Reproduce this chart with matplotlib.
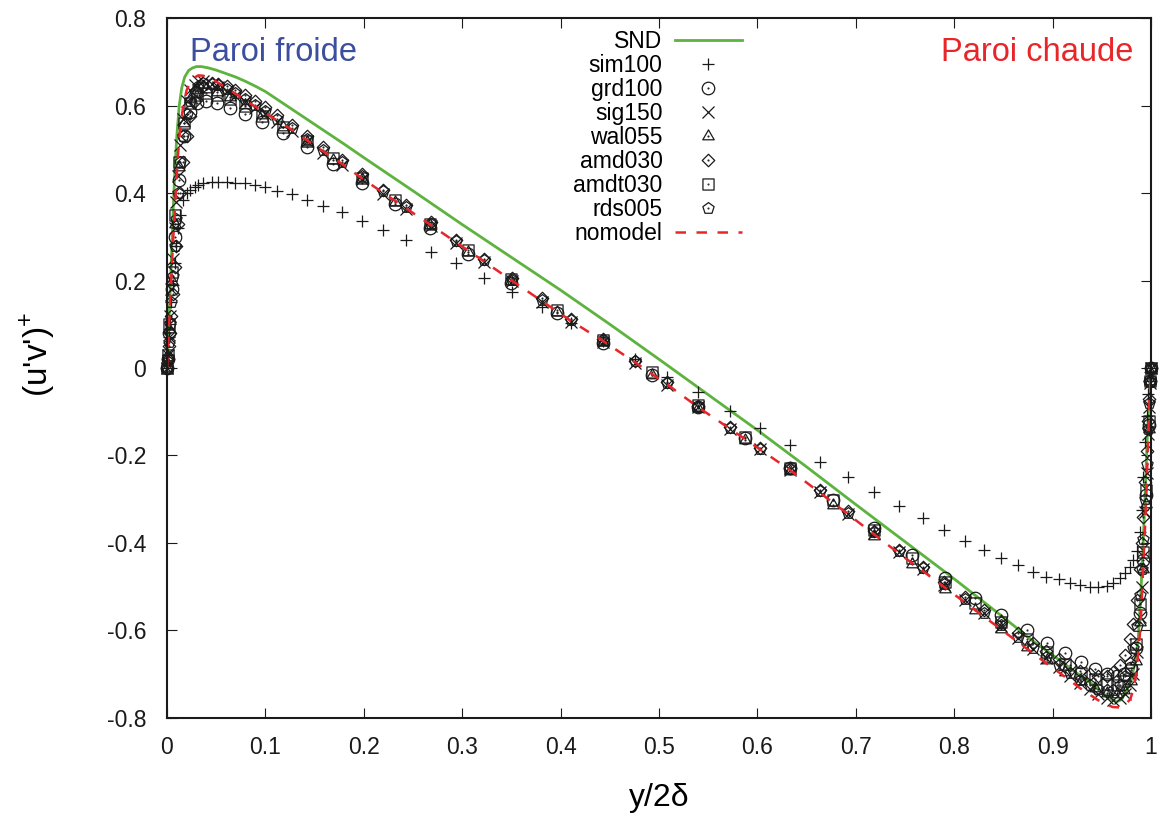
import matplotlib
matplotlib.use('Agg')
import matplotlib.pyplot as plt
from matplotlib.path import Path
from matplotlib.ticker import MultipleLocator, FormatStrFormatter

plt.rcParams['font.family'] = ['Liberation Sans', 'DejaVu Sans']
plt.rcParams['axes.unicode_minus'] = False
plt.rcParams['mathtext.fontset'] = 'custom'
plt.rcParams['mathtext.rm'] = 'Liberation Sans'

# DNS reference profile
x_snd = [0.0, 0.001, 0.002, 0.003, 0.004, 0.005, 0.0065, 0.008, 0.010, 0.0125,
         0.015, 0.018, 0.022, 0.026, 0.030, 0.035, 0.042, 0.05, 0.06, 0.07,
         0.08, 0.09, 0.10, 0.12, 0.14, 0.16, 0.18, 0.20, 0.25, 0.30,
         0.35, 0.40, 0.45, 0.50, 0.55, 0.60, 0.65, 0.70, 0.75, 0.80,
         0.85, 0.88, 0.90, 0.92, 0.94, 0.95, 0.96, 0.965, 0.970, 0.975,
         0.980, 0.984, 0.987, 0.990, 0.992, 0.994, 0.996, 0.998, 1.0]
snd = [0.0, 0.05, 0.10, 0.16, 0.22, 0.28, 0.37, 0.45, 0.53, 0.60,
       0.640, 0.665, 0.680, 0.686, 0.689, 0.689, 0.686, 0.681, 0.673, 0.665,
       0.655, 0.644, 0.632, 0.602, 0.572, 0.542, 0.512, 0.481, 0.405, 0.328,
       0.253, 0.178, 0.100, 0.020, -0.061, -0.142, -0.226, -0.312, -0.397, -0.482,
       -0.570, -0.624, -0.656, -0.690, -0.722, -0.742, -0.758, -0.763, -0.758, -0.738,
       -0.712, -0.670, -0.620, -0.500, -0.400, -0.290, -0.170, -0.070, 0.0]

# LES grids (fine and coarse)
x_fine = [0.0, 0.001, 0.002, 0.003, 0.0045, 0.006, 0.008, 0.0095, 0.011, 0.0135,
          0.0166, 0.020, 0.0234, 0.028, 0.032, 0.037, 0.0454, 0.052, 0.0607, 0.069,
          0.079, 0.0894, 0.0996, 0.1115, 0.1267, 0.142, 0.159, 0.1775, 0.198, 0.220,
          0.243, 0.268, 0.294, 0.322, 0.351, 0.381, 0.411, 0.443, 0.4756,
          0.508, 0.540, 0.5722, 0.6026, 0.633, 0.6636, 0.692, 0.7185, 0.744, 0.768,
          0.790, 0.811, 0.830, 0.848, 0.865, 0.880, 0.893, 0.906, 0.918, 0.928,
          0.938, 0.946, 0.955, 0.961, 0.9685, 0.9736, 0.979, 0.982, 0.9855, 0.989,
          0.9906, 0.992, 0.994, 0.9955, 0.997, 0.998, 0.9991, 1.0]
x_coarse = [0.0, 0.0008, 0.0025, 0.005, 0.008, 0.012, 0.017, 0.023, 0.031, 0.040,
            0.051, 0.064, 0.079, 0.097, 0.118, 0.142, 0.169, 0.198, 0.2317, 0.2673,
            0.306, 0.350, 0.396, 0.4434, 0.4926, 0.540, 0.5874, 0.633, 0.677, 0.718,
            0.757, 0.791, 0.821, 0.848, 0.874, 0.894, 0.913, 0.929, 0.943, 0.955,
            0.965, 0.973, 0.980, 0.985, 0.989, 0.992, 0.995, 0.9975, 0.9992, 1.0]

sim100 = [0.0, 0.03, 0.07, 0.10, 0.15, 0.19, 0.24, 0.28, 0.32, 0.35,
          0.385, 0.40, 0.408, 0.414, 0.419, 0.422, 0.425, 0.426, 0.426, 0.424,
          0.422, 0.418, 0.414, 0.405, 0.397, 0.385, 0.371, 0.356, 0.337, 0.315,
          0.293, 0.266, 0.239, 0.206, 0.174, 0.139, 0.103, 0.062, 0.020,
          -0.020, -0.055, -0.098, -0.138, -0.176, -0.214, -0.250, -0.284, -0.315, -0.344,
          -0.370, -0.395, -0.416, -0.435, -0.451, -0.466, -0.477, -0.483, -0.492, -0.496,
          -0.500, -0.501, -0.498, -0.492, -0.481, -0.468, -0.455, -0.440, -0.418, -0.375,
          -0.325, -0.250, -0.170, -0.110, -0.060, -0.030, -0.010, 0.0]
sig150 = [0.0, 0.03, 0.07, 0.12, 0.18, 0.25, 0.32, 0.38, 0.44, 0.51,
          0.57, 0.61, 0.635, 0.648, 0.655, 0.656, 0.650, 0.643, 0.633, 0.622,
          0.608, 0.594, 0.580, 0.562, 0.541, 0.518, 0.492, 0.464, 0.432, 0.398,
          0.363, 0.325, 0.285, 0.243, 0.198, 0.152, 0.106, 0.060, 0.012,
          -0.038, -0.090, -0.139, -0.186, -0.233, -0.284, -0.333, -0.378, -0.421, -0.460,
          -0.496, -0.530, -0.561, -0.590, -0.618, -0.642, -0.664, -0.684, -0.703, -0.720,
          -0.734, -0.745, -0.754, -0.758, -0.755, -0.745, -0.725, -0.700, -0.650, -0.570,
          -0.500, -0.430, -0.330, -0.240, -0.150, -0.090, -0.035, 0.0]
amd030 = [0.0, 0.02, 0.05, 0.08, 0.12, 0.17, 0.23, 0.28, 0.33, 0.40,
          0.47, 0.53, 0.575, 0.61, 0.632, 0.645, 0.652, 0.650, 0.645, 0.636,
          0.624, 0.610, 0.596, 0.578, 0.556, 0.531, 0.505, 0.476, 0.443, 0.408,
          0.372, 0.333, 0.293, 0.250, 0.205, 0.159, 0.112, 0.066, 0.017,
          -0.033, -0.086, -0.135, -0.182, -0.229, -0.280, -0.328, -0.373, -0.416, -0.455,
          -0.490, -0.523, -0.553, -0.580, -0.606, -0.628, -0.648, -0.665, -0.680, -0.692,
          -0.700, -0.704, -0.703, -0.695, -0.680, -0.655, -0.620, -0.585, -0.530, -0.460,
          -0.400, -0.340, -0.260, -0.190, -0.120, -0.070, -0.030, 0.0]
rds005 = [0.0, 0.025, 0.06, 0.10, 0.15, 0.21, 0.28, 0.34, 0.40, 0.47,
          0.53, 0.58, 0.61, 0.632, 0.645, 0.651, 0.650, 0.646, 0.638, 0.628,
          0.615, 0.601, 0.587, 0.569, 0.548, 0.524, 0.498, 0.470, 0.438, 0.404,
          0.368, 0.330, 0.290, 0.247, 0.202, 0.156, 0.109, 0.063, 0.015,
          -0.035, -0.088, -0.137, -0.184, -0.231, -0.282, -0.331, -0.376, -0.419, -0.458,
          -0.494, -0.528, -0.559, -0.588, -0.615, -0.639, -0.660, -0.680, -0.698, -0.713,
          -0.725, -0.733, -0.737, -0.735, -0.725, -0.705, -0.675, -0.640, -0.590, -0.520,
          -0.460, -0.390, -0.300, -0.220, -0.140, -0.080, -0.030, 0.0]
nomodel = [0.0, 0.04, 0.09, 0.14, 0.21, 0.28, 0.36, 0.42, 0.48, 0.55,
           0.60, 0.635, 0.652, 0.664, 0.669, 0.668, 0.660, 0.652, 0.640, 0.628,
           0.613, 0.598, 0.584, 0.566, 0.545, 0.521, 0.495, 0.467, 0.434, 0.400,
           0.365, 0.327, 0.287, 0.244, 0.199, 0.153, 0.107, 0.062, 0.013,
           -0.037, -0.090, -0.139, -0.186, -0.233, -0.285, -0.334, -0.380, -0.424, -0.464,
           -0.501, -0.536, -0.568, -0.598, -0.627, -0.652, -0.674, -0.695, -0.715, -0.732,
           -0.747, -0.759, -0.769, -0.775, -0.776, -0.770, -0.757, -0.735, -0.690, -0.600,
           -0.530, -0.460, -0.360, -0.270, -0.170, -0.100, -0.040, 0.0]

grd100 = [0.0, 0.02, 0.08, 0.18, 0.30, 0.43, 0.53, 0.585, 0.605, 0.61,
          0.605, 0.595, 0.58, 0.562, 0.538, 0.506, 0.466, 0.424, 0.374, 0.319,
          0.261, 0.194, 0.125, 0.057, -0.015,
          -0.090, -0.160, -0.228, -0.302, -0.366, -0.428, -0.481, -0.525, -0.565, -0.600,
          -0.628, -0.652, -0.672, -0.688, -0.700, -0.705, -0.700, -0.685, -0.640, -0.560,
          -0.440, -0.290, -0.130, -0.030, 0.0]
wal055 = [0.0, 0.025, 0.09, 0.20, 0.33, 0.46, 0.56, 0.615, 0.635, 0.638,
          0.632, 0.620, 0.602, 0.578, 0.550, 0.516, 0.476, 0.431, 0.380, 0.326,
          0.266, 0.198, 0.128, 0.059, -0.015,
          -0.092, -0.165, -0.236, -0.313, -0.383, -0.449, -0.505, -0.553, -0.596, -0.637,
          -0.668, -0.694, -0.716, -0.732, -0.742, -0.745, -0.736, -0.715, -0.670, -0.580,
          -0.460, -0.310, -0.140, -0.030, 0.0]
amdt030 = [0.0, 0.03, 0.10, 0.22, 0.35, 0.47, 0.56, 0.605, 0.625, 0.628,
           0.624, 0.614, 0.598, 0.577, 0.551, 0.518, 0.479, 0.434, 0.384, 0.330,
           0.270, 0.203, 0.133, 0.064, -0.010,
           -0.085, -0.158, -0.228, -0.302, -0.370, -0.434, -0.490, -0.538, -0.580, -0.620,
           -0.650, -0.676, -0.697, -0.712, -0.722, -0.725, -0.715, -0.690, -0.630, -0.540,
           -0.420, -0.280, -0.120, -0.030, 0.0]


def dotted(outline):
    # open symbol with a small dot in the middle
    return Path.make_compound_path(outline, Path.circle((0, 0), 0.07))


square = Path([(-1, -1), (1, -1), (1, 1), (-1, 1), (-1, -1)],
              [Path.MOVETO, Path.LINETO, Path.LINETO, Path.LINETO, Path.CLOSEPOLY])
m_circle = dotted(Path.unit_circle())
m_triangle = dotted(Path.unit_regular_polygon(3))
m_diamond = dotted(Path.unit_regular_polygon(4))
m_square = dotted(square)
m_pentagon = dotted(Path.unit_regular_polygon(5))

ink = '#1a1a1a'
mk = dict(linestyle='none', mfc='none', mec=ink, mew=0.9, clip_on=False)

fig = plt.figure(figsize=(11.61, 8.23), dpi=100)
ax = fig.add_axes([0.1438, 0.1276, 0.8476, 0.8505])

ax.plot(x_snd, snd, color='#5cb33d', lw=2.0, label='SND')
ax.plot(x_fine, sim100, marker='+', ms=9, **mk, label='sim100')
ax.plot(x_coarse, grd100, marker=m_circle, ms=9, **mk, label='grd100')
ax.plot(x_fine, sig150, marker='x', ms=8, **mk, label='sig150')
ax.plot(x_coarse, wal055, marker=m_triangle, ms=9.5, **mk, label='wal055')
ax.plot(x_fine, amd030, marker=m_diamond, ms=9, **mk, label='amd030')
ax.plot(x_coarse, amdt030, marker=m_square, ms=8, **mk, label='amdt030')
ax.plot(x_fine, rds005, marker=m_pentagon, ms=8.5, **mk, label='rds005')
ax.plot(x_fine, nomodel, color='#e8262a', lw=1.8, linestyle=(0, (4.2, 4.2)),
        label='nomodel')

ax.set_xlim(0, 1)
ax.set_ylim(-0.8, 0.8)
ax.xaxis.set_major_locator(MultipleLocator(0.1))
ax.yaxis.set_major_locator(MultipleLocator(0.2))
ax.xaxis.set_major_formatter(FormatStrFormatter('%g'))
ax.yaxis.set_major_formatter(FormatStrFormatter('%g'))
ax.tick_params(direction='in', length=7, width=0.8, top=True, right=True,
               labelsize=16.5, colors='#1a1a1a')
ax.tick_params(axis='y', pad=15)
ax.tick_params(axis='x', pad=13)
for s in ax.spines.values():
    s.set_linewidth(1.5)
    s.set_color('#1a1a1a')

ax.set_xlabel('y/2δ', fontsize=23)
ax.xaxis.set_label_coords(0.5, -0.093)
ax.set_ylabel("(u'v')$^{+}$", fontsize=24)
ax.yaxis.set_label_coords(-0.112, 0.52)

ax.text(0.0234, 0.951, 'Paroi froide', transform=ax.transAxes, color='#3c4f9f',
        fontsize=23.5, va='center', ha='left')
ax.text(0.9817, 0.951, 'Paroi chaude', transform=ax.transAxes, color='#e8262a',
        fontsize=23.5, va='center', ha='right')

leg = ax.legend(loc='upper right', bbox_to_anchor=(0.584, 0.983), frameon=False,
                markerfirst=False, numpoints=1, fontsize=16.5, handlelength=2.9,
                handletextpad=0.55, labelspacing=0.045, borderpad=0, borderaxespad=0)

fig.savefig('out.png', dpi=100)
